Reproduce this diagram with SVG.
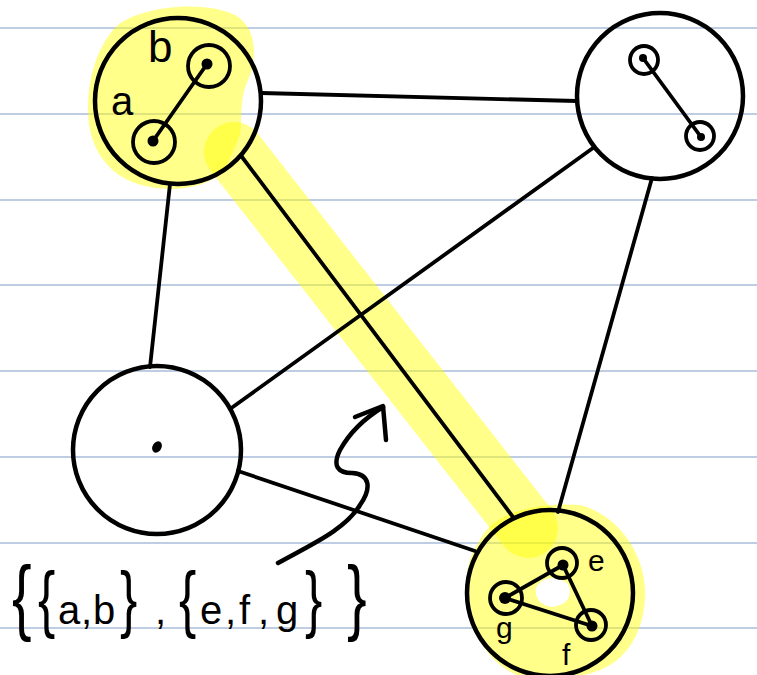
<svg xmlns="http://www.w3.org/2000/svg" width="757" height="675" viewBox="0 0 757 675">
  <style>
    .rule { stroke: #a9bcd8; stroke-width: 1.5; }
    .hl { fill: #ffff00; fill-opacity: 0.46; stroke: none; }
    .band { fill: none; stroke: #ffff00; stroke-opacity: 0.46; stroke-width: 60; stroke-linecap: round; }
    .ink { fill: none; stroke: #000; stroke-width: 4.5; stroke-linecap: round; stroke-linejoin: round; }
    .thin { fill: none; stroke: #000; stroke-width: 3.8; stroke-linecap: round; }
    .dot { fill: #000; }
    .lbl { font-family: "Liberation Sans", Arial, sans-serif; fill: #000; }
  </style>

  <rect width="757" height="675" fill="#ffffff"/>

  <!-- ruled paper -->
  <g id="paper">
    <line class="rule" x1="0" y1="28" x2="757" y2="28"/>
    <line class="rule" x1="0" y1="114" x2="757" y2="114"/>
    <line class="rule" x1="0" y1="200" x2="757" y2="200"/>
    <line class="rule" x1="0" y1="285" x2="757" y2="285"/>
    <line class="rule" x1="0" y1="371" x2="757" y2="371"/>
    <line class="rule" x1="0" y1="457" x2="757" y2="457"/>
    <line class="rule" x1="0" y1="543" x2="757" y2="543"/>
    <line class="rule" x1="0" y1="628" x2="757" y2="628"/>
  </g>

  <!-- highlighter strokes -->
  <g id="highlight">
    <path class="hl" d="M113,30 C130,8 200,-2 235,15 C258,28 258,60 246,85 C240,100 242,120 240,135 L225,170 C205,190 170,192 145,186 C110,178 88,150 88,110 C88,75 98,48 113,30 Z"/>
    <line class="band" x1="234" y1="152" x2="528" y2="528"/>
    <path class="hl" fill-rule="evenodd" d="M480,540 C492,512 540,502 580,505 C620,515 648,558 645,600 C642,640 620,672 575,676 L520,676 C490,666 468,630 466,595 C465,570 470,555 480,540 Z M536,588 C542,576 558,575 568,584 C574,596 566,606 552,607 C541,606 534,598 536,588 Z"/>
  </g>

  <!-- connectors -->
  <g id="edges">
    <line class="thin" x1="261" y1="93" x2="577" y2="101"/>
    <line class="thin" x1="170" y1="184" x2="150" y2="367"/>
    <line class="thin" x1="242" y1="157" x2="513" y2="517"/>
    <line class="thin" x1="593" y1="148" x2="230" y2="409"/>
    <line class="thin" x1="652" y1="178" x2="558" y2="512"/>
    <line class="thin" x1="238" y1="471" x2="475" y2="551"/>
  </g>

  <!-- node with parts a, b -->
  <g id="node-ab">
    <circle class="ink" cx="178" cy="101" r="83"/>
    <circle class="thin" cx="209" cy="66" r="21"/>
    <circle class="thin" cx="154" cy="142" r="21"/>
    <line class="thin" x1="207" y1="64" x2="153" y2="141"/>
    <circle class="dot" cx="207" cy="64" r="5.5"/>
    <circle class="dot" cx="153" cy="141" r="5.5"/>
    <text class="lbl" x="148" y="62" font-size="44">b</text>
    <text class="lbl" x="111" y="115" font-size="40">a</text>
  </g>

  <!-- node with two parts -->
  <g id="node-pair">
    <circle class="ink" cx="660" cy="96" r="83"/>
    <circle class="thin" cx="644" cy="60" r="14"/>
    <circle class="thin" cx="700" cy="136" r="14"/>
    <line class="thin" x1="643" y1="58" x2="701" y2="137"/>
    <circle class="dot" cx="643" cy="58" r="4"/>
    <circle class="dot" cx="701" cy="137" r="4"/>
  </g>

  <!-- single point node -->
  <g id="node-single">
    <circle class="ink" cx="157" cy="450" r="84"/>
    <ellipse class="dot" cx="157" cy="447" rx="4.5" ry="6" transform="rotate(30 157 447)"/>
  </g>

  <!-- node with parts e, f, g -->
  <g id="node-efg">
    <circle class="ink" cx="550" cy="593" r="83"/>
    <circle class="thin" cx="562" cy="563" r="15"/>
    <circle class="thin" cx="506" cy="598" r="16"/>
    <circle class="thin" cx="591" cy="625" r="15"/>
    <polygon class="thin" stroke-linejoin="round" points="563,565 505,598 592,626"/>
    <circle class="dot" cx="563" cy="565" r="5.5"/>
    <circle class="dot" cx="505" cy="598" r="6"/>
    <circle class="dot" cx="592" cy="626" r="5.5"/>
    <text class="lbl" x="588" y="571" font-size="30">e</text>
    <text class="lbl" x="496" y="638" font-size="30">g</text>
    <text class="lbl" x="562" y="665" font-size="30">f</text>
  </g>

  <!-- annotation arrow and set notation -->
  <g id="annotation">
    <path class="ink" d="M278,563 C310,545 345,530 360,505 C372,488 370,474 352,473 C338,473 332,466 340,450 C350,432 365,418 383,407"/>
    <path class="ink" d="M355,417 L383,406 L386,440"/>
    <text class="lbl" font-size="84" transform="translate(12 625) scale(0.7 1)">{</text>
    <text class="lbl" font-size="74" transform="translate(38 624) scale(0.7 1)">{</text>
    <text class="lbl" y="624" font-size="40"><tspan x="58">a</tspan><tspan x="81">,</tspan><tspan x="93">b</tspan></text>
    <text class="lbl" font-size="74" transform="translate(120 624) scale(0.7 1)">}</text>
    <text class="lbl" x="155" y="624" font-size="40">,</text>
    <text class="lbl" font-size="74" transform="translate(179 624) scale(0.7 1)">{</text>
    <text class="lbl" y="624" font-size="40"><tspan x="200">e</tspan><tspan x="225">,</tspan><tspan x="239">f</tspan><tspan x="258">,</tspan><tspan x="276">g</tspan></text>
    <text class="lbl" font-size="74" transform="translate(305 624) scale(0.7 1)">}</text>
    <text class="lbl" font-size="84" transform="translate(347 625) scale(0.7 1)">}</text>
  </g>
</svg>
